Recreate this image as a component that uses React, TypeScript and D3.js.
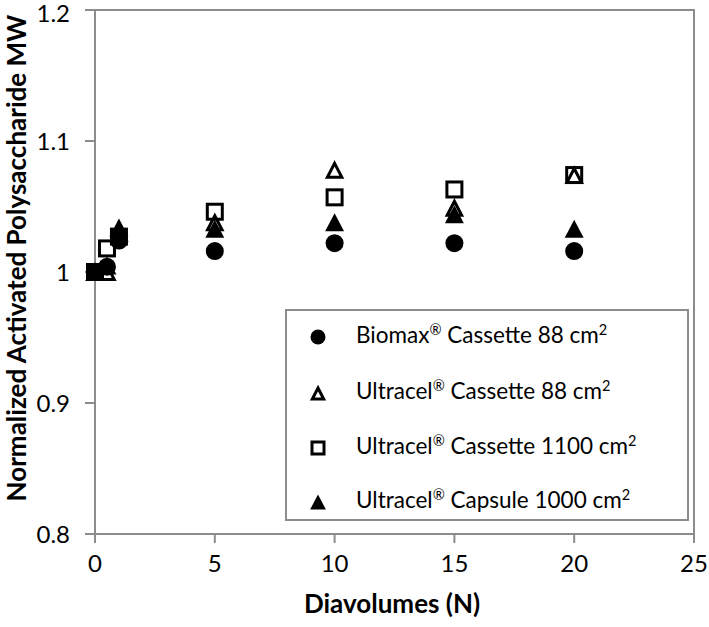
import React from "react";
import * as d3 from "d3";

const seriesNames = ["Biomax", "Ultracel", "Ultracel", "Ultracel"];
const seriesMid = [" Cassette 88 cm", " Cassette 88 cm", " Cassette 1100 cm", " Capsule 1000 cm"];
const seriesMarkers = ["circle", "openTriangle", "openSquare", "filledTriangle"];

const xBiomax = [0, 0.5, 1, 5, 10, 15, 20];
const yBiomax = [1.0, 1.004, 1.024, 1.016, 1.022, 1.022, 1.016];
const xUltra88 = [0, 0.5, 1, 5, 10, 15, 20];
const yUltra88 = [1.0, 1.0, 1.03, 1.038, 1.078, 1.049, 1.074];
const xUltra1100 = [0, 0.5, 1, 5, 10, 15, 20];
const yUltra1100 = [1.0, 1.018, 1.027, 1.046, 1.057, 1.063, 1.074];
const xCapsule = [0, 0.5, 1, 5, 10, 15, 20];
const yCapsule = [1.0, 1.005, 1.034, 1.033, 1.038, 1.044, 1.033];

const xTicks = [0, 5, 10, 15, 20, 25];
const yTicks = [0.8, 0.9, 1.0, 1.1, 1.2];
const yTickLabels = ["0.8", "0.9", "1", "1.1", "1.2"];

const xs = [xBiomax, xUltra88, xUltra1100, xCapsule];
const ys = [yBiomax, yUltra88, yUltra1100, yCapsule];

const FONT = "Lato, 'Open Sans', sans-serif";
const AX = "#8c8c8c";

function Marker({ type, x, y, s }: { type: string; x: number; y: number; s: number }) {
  if (type === "circle") return <circle cx={x} cy={y} r={s / 2} fill="#000" />;
  if (type === "openSquare")
    return <rect x={x - s / 2 + 1.5} y={y - s / 2 + 1.5} width={s - 3} height={s - 3} fill="none" stroke="#000" strokeWidth={3} />;
  const h = s * 1.0;
  const w = s * 1.05;
  const tri = d3.line()([
    [x, y - h / 2],
    [x + w / 2, y + h / 2],
    [x - w / 2, y + h / 2],
  ]) + "Z";
  if (type === "openTriangle")
    return <path d={d3.line()([[x, y - h / 2 + 2.5], [x + w / 2 - 2.2, y + h / 2 - 1.5], [x - w / 2 + 2.2, y + h / 2 - 1.5]]) + "Z"} fill="none" stroke="#000" strokeWidth={3} strokeLinejoin="miter" />;
  return <path d={tri} fill="#000" />;
}

export default function App() {
  const x = d3.scaleLinear().domain([0, 25]).range([95, 694]);
  const y = d3.scaleLinear().domain([0.8, 1.2]).range([534, 10]);

  const legendX = 286, legendY = 310, legendW = 402, legendH = 210;
  const rowY = [335, 391, 446, 500];

  return (
    <svg width={709} height={627} style={{ position: "absolute", left: 0, top: 0, background: "#fff" }} fontFamily={FONT}>
      <rect x={0} y={0} width={709} height={627} fill="#fff" />
      {/* plot border */}
      <rect x={x(0)} y={y(1.2)} width={x(25) - x(0)} height={y(0.8) - y(1.2)} fill="none" stroke={AX} strokeWidth={2} />
      {/* y ticks */}
      {yTicks.map((t, i) => (
        <g key={"y" + i}>
          <line x1={x(0) - 10} x2={x(0)} y1={y(t)} y2={y(t)} stroke={AX} strokeWidth={2} />
          <text x={70} y={y(t) + (t === 1.2 ? 3 : 0)} dy="0.36em" textAnchor="end" fontSize={24} fill="#000">{yTickLabels[i]}</text>
        </g>
      ))}
      {/* x ticks */}
      {xTicks.map((t, i) => (
        <g key={"x" + i}>
          <line x1={x(t)} x2={x(t)} y1={y(0.8)} y2={y(0.8) + 9} stroke={AX} strokeWidth={2} />
          <text x={x(t)} y={572} textAnchor="middle" fontSize={24} fill="#000">{String(t)}</text>
        </g>
      ))}
      <text x={392} y={613} textAnchor="middle" fontSize={26} fontWeight="bold" fill="#000">Diavolumes (N)</text>
      <text transform={`translate(26,258) rotate(-90)`} textAnchor="middle" fontSize={26} fontWeight="bold" fill="#000">
        Normalized Activated Polysaccharide MW
      </text>

      {/* data */}
      {xs.map((sx, si) => (
        <g key={"s" + si}>
          {sx.map((v, i) => (
            <Marker key={i} type={seriesMarkers[si]} x={x(v)} y={y(ys[si][i])} s={18} />
          ))}
        </g>
      ))}

      {/* legend */}
      <rect x={legendX} y={legendY} width={legendW} height={legendH} fill="#fff" stroke={AX} strokeWidth={2} />
      {seriesNames.map((n, i) => (
        <g key={"l" + i}>
          <Marker type={seriesMarkers[i]} x={318} y={rowY[i] + 2} s={15} />
          <text x={356} y={rowY[i]} dy="0.35em" fontSize={22.5} fill="#000">
            {n}
            <tspan fontSize={14.5} dy={-8}>®</tspan>
            <tspan dy={8}>{seriesMid[i]}</tspan>
            <tspan fontSize={14.5} dy={-8}>2</tspan>
          </text>
        </g>
      ))}
    </svg>
  );
}
